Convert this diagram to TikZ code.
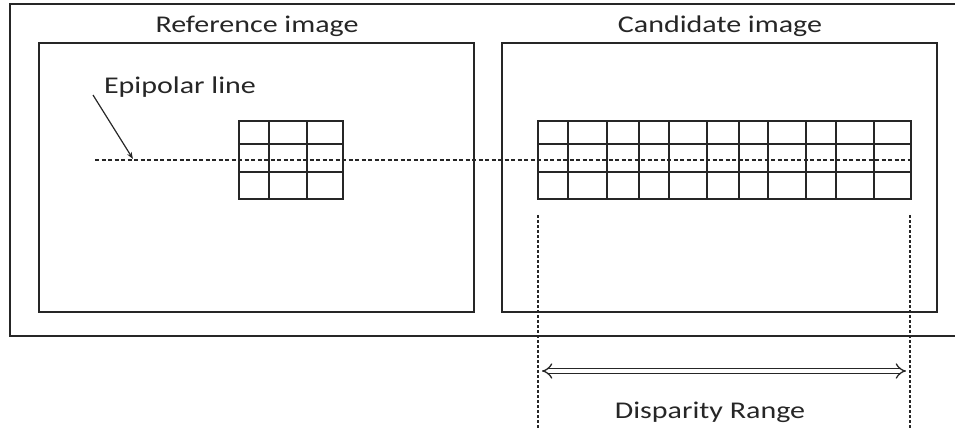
\documentclass[tikz,border=0pt]{standalone}
\usepackage{fontspec}
\setmainfont{Carlito}
\usepackage{graphicx}
\usetikzlibrary{arrows.meta}
\definecolor{ink}{HTML}{262626}
\newcommand{\wide}[1]{\scalebox{1.25}[1]{#1}}
\begin{document}
\begin{tikzpicture}[x=1pt,y=-1pt,
  frame/.style={draw=ink,line width=1.4pt},
  cell/.style={draw=ink,line width=1.3pt},
  label/.style={font=\fontsize{24}{28}\selectfont,text=ink,inner sep=0pt,anchor=base},
  epiline/.style={draw=ink,line width=1.2pt,dash pattern=on 4pt off 2.5pt},
  bound/.style={draw=ink,line width=1.2pt,dash pattern=on 3pt off 2pt}]
\useasboundingbox (0,0) rectangle (955,429);
\clip (0,0) rectangle (955,429);

% outer frame (runs past the right edge)
\draw[frame] (10,4) rectangle (970,336);

% the two image panels
\draw[frame] (39,43) rectangle (474,312);
\draw[frame] (502,43) rectangle (937,312);
\node[label] (reftitle) at (257,32) {\wide{Reference image}};
\node[label] (candtitle) at (720,32) {\wide{Candidate image}};

% 3x3 matching window in the reference image
\draw[cell] (239,121) rectangle (343,199);
\foreach \x in {269,307} \draw[cell] (\x,121) -- (\x,199);
\foreach \y in {144,172} \draw[cell] (239,\y) -- (343,\y);

% search strip in the candidate image
\draw[cell] (538,121) rectangle (911,199);
\foreach \x in {568,607,639,669,707,739,768,806,836,874} \draw[cell] (\x,121) -- (\x,199);
\foreach \y in {144,172} \draw[cell] (538,\y) -- (911,\y);

% epipolar line through both images
\coordinate (epistart) at (95,160);
\coordinate (epiend) at (911,160);
\coordinate (epihit) at (133,159);
\draw[epiline] (epistart) -- (epiend);
\node[label] (epilabel) at (180,93) {\wide{Epipolar line}};
\draw[ink,line width=1.2pt,-{Stealth[length=7pt,width=5pt]}] (93,95) -- (epihit);

% disparity range
\coordinate (lefttop) at (538,215);
\coordinate (leftbot) at (538,428);
\coordinate (righttop) at (910,215);
\coordinate (rightbot) at (910,428);
\draw[bound] (lefttop) -- (leftbot);
\draw[bound] (righttop) -- (rightbot);
\coordinate (arrL) at (542,371);
\coordinate (arrR) at (906,371);
\draw[ink,line width=1.3pt,double=white,double distance=4pt,{Implies}-{Implies}] (arrL) -- (arrR);
\node[label] (rangelabel) at (710,418) {\wide{Disparity Range}};
\end{tikzpicture}
\end{document}
